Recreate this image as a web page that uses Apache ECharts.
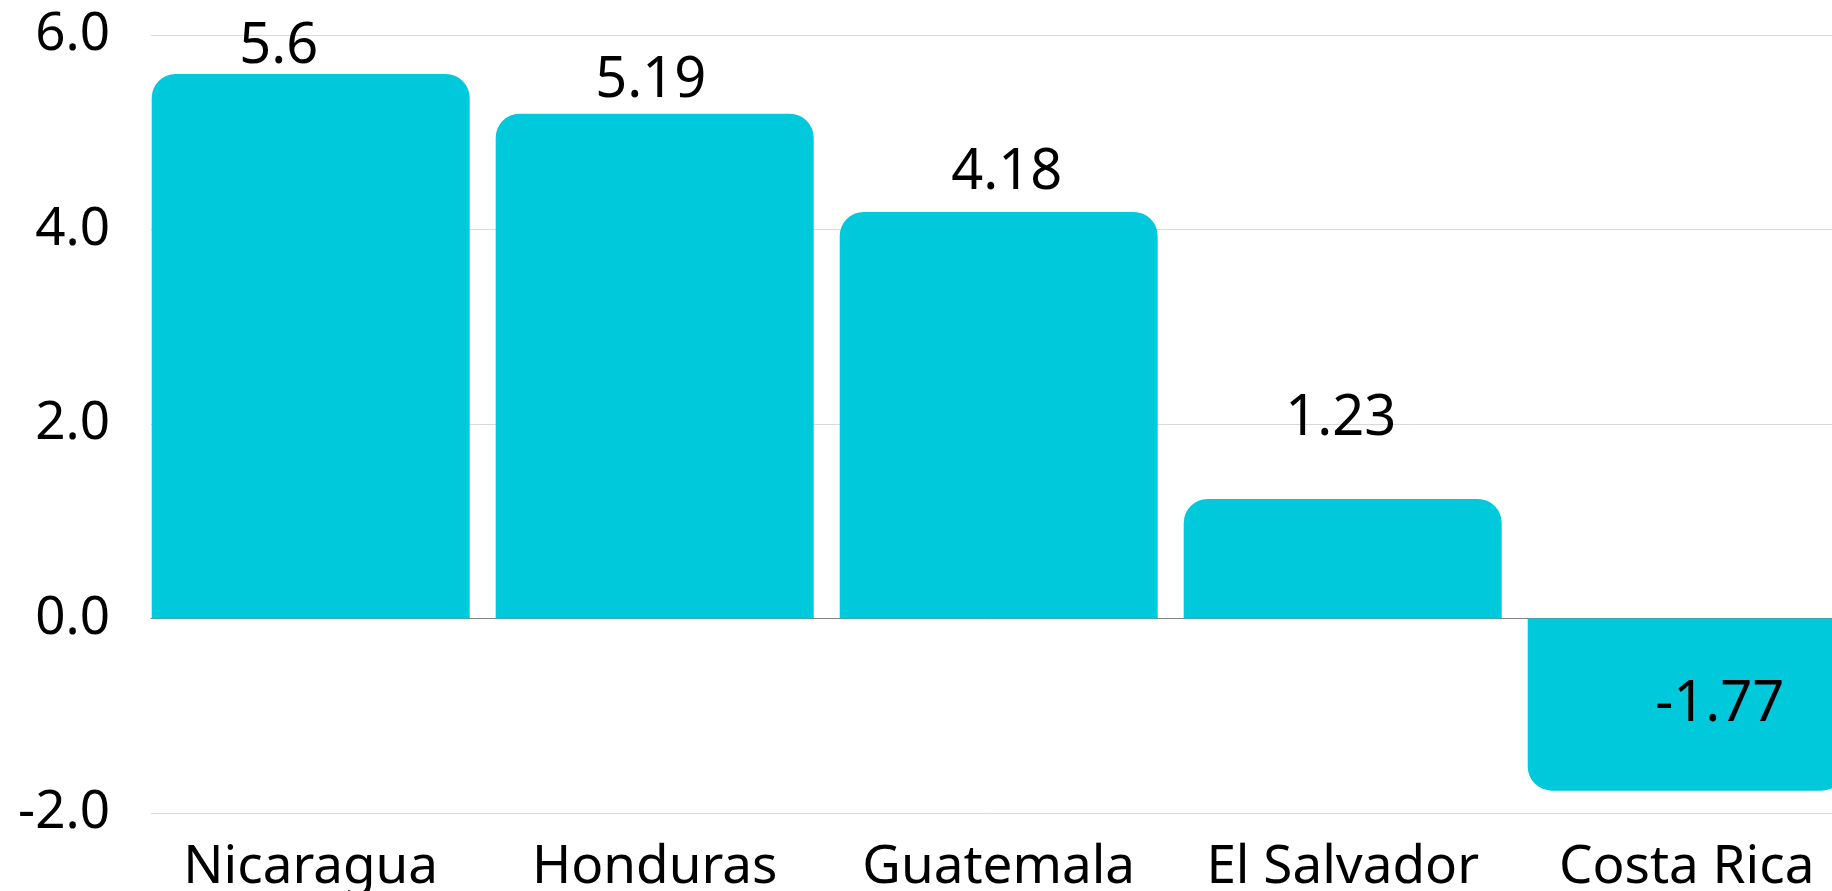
<!DOCTYPE html>
<html><head><meta charset="utf-8">
<script src="https://cdn.jsdelivr.net/npm/echarts@6/dist/echarts.min.js"></script>
<style>html,body{margin:0;padding:0;background:#fff}#c{width:1832px;height:891px}</style>
</head><body><div id="c"></div>
<script>
const categories = ['Nicaragua', 'Honduras', 'Guatemala', 'El Salvador', 'Costa Rica'];
const values = [5.6, 5.19, 4.18, 1.23, -1.77];
const yMin = -2, yMax = 6, yInterval = 2;

// label placement tweaks (style only)
const labelOffsets = [[-32, 1], [-4, -5], [8, -11], [-2, -52], [33, 0]];

const FONT = 'Noto Sans';
const FS = 53;
const VFS = 56;
const BAR = '#00c9dc';

const chart = echarts.init(document.getElementById('c'), null, {renderer: 'canvas'});
chart.setOption({
  animation: false,
  backgroundColor: '#ffffff',
  grid: [
    {left: 151, right: 0, top: 35, bottom: 78, containLabel: false, outerBoundsMode: 'none'},
    {left: 138.7, width: 1720, top: 35, bottom: 78, containLabel: false, outerBoundsMode: 'none'}
  ],
  xAxis: [
    {type: 'category', gridIndex: 0, data: categories,
     axisLine: {show: true, onZero: true, lineStyle: {color: '#808080', width: 1}},
     axisTick: {show: false}, axisLabel: {show: false}, splitLine: {show: false}},
    {type: 'category', gridIndex: 1, data: categories,
     axisLine: {show: false}, axisTick: {show: false}, splitLine: {show: false},
     axisLabel: {interval: 0, fontSize: FS, color: '#000', fontFamily: FONT, margin: 28}}
  ],
  yAxis: [
    {type: 'value', gridIndex: 0, min: yMin, max: yMax, interval: yInterval,
     axisLine: {show: false}, axisTick: {show: false},
     axisLabel: {formatter: v => v.toFixed(1), fontSize: FS, color: '#000', fontFamily: FONT, margin: 41,
                 padding: [5, 0, 0, 0]},
     splitLine: {show: true, lineStyle: {color: '#d9d9d9', width: 1}}},
    {type: 'value', gridIndex: 1, min: yMin, max: yMax, interval: yInterval, show: false,
     splitLine: {show: false}}
  ],
  series: [{
    type: 'bar',
    xAxisIndex: 1, yAxisIndex: 1,
    barWidth: 318,
    itemStyle: {color: BAR, borderRadius: [24, 24, 0, 0]},
    label: {show: true, fontSize: VFS, lineHeight: 56, color: '#000', fontFamily: FONT, distance: 0},
    data: values.map((v, i) => ({
      value: v,
      itemStyle: v < 0 ? {borderRadius: [0, 0, 24, 24]} : {},
      label: {position: v < 0 ? 'inside' : 'top', offset: labelOffsets[i]}
    }))
  }]
});
</script></body></html>
